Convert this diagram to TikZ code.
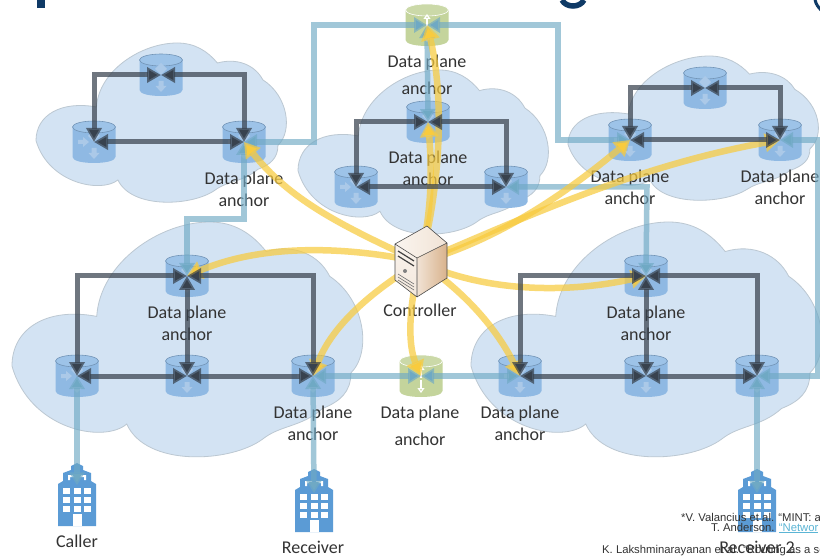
\documentclass[tikz,border=0pt]{standalone}
\usepackage{fontspec}
\setmainfont{Carlito}
\newfontfamily\footfont{Liberation Sans}
\usetikzlibrary{arrows.meta}
\definecolor{cloudfill}{HTML}{D3E3F3}
\definecolor{cloudedge}{HTML}{BCC8D2}
\definecolor{cylbody}{HTML}{8FB9E3}
\definecolor{cyltop}{HTML}{9DC3E8}
\definecolor{cylicon}{HTML}{ABC9E8}
\definecolor{greenbody}{HTML}{C4D49C}
\definecolor{bldgblue}{HTML}{5B9BD5}
\definecolor{darklink}{HTML}{38424E}
\definecolor{bluelink}{HTML}{6FA9C4}
\definecolor{yellowlink}{HTML}{F8CB3E}
\definecolor{labeltext}{HTML}{333333}
\definecolor{navy}{HTML}{0F3A66}
\tikzset{
  dlink/.style={draw=darklink,draw opacity=.72,line width=5pt,
    {Triangle[length=14pt,width=15pt]}-{Triangle[length=14pt,width=15pt]}},
  blink/.style={draw=bluelink,draw opacity=.65,line width=5.5pt,
    {Triangle[length=13pt,width=15pt]}-{Triangle[length=13pt,width=15pt]}},
  ylink/.style={draw=yellowlink,draw opacity=.72,line width=6.5pt,
    -{Triangle[length=15pt,width=18pt]}},
  cylnode/.style={inner sep=0pt,minimum width=43pt,minimum height=42pt},
  lab/.style={align=center,text=labeltext,font=\fontsize{18}{22}\selectfont,inner sep=0pt},
  labwide/.style={align=center,text=labeltext,font=\fontsize{18}{27}\selectfont,inner sep=0pt},
  lone/.style={text=labeltext,font=\fontsize{18}{22}\selectfont,inner sep=0pt,anchor=base},
  foot/.style={anchor=west,font=\footfont\fontsize{11.3}{12}\selectfont,text=black!80,inner sep=0pt},
  anchorpt/.style={inner sep=0pt,minimum size=1pt}
}
\newcommand{\cloudat}[4]{%
  \begin{scope}[shift={(#1,#2)},x=#3pt,y=-#4pt]
  \draw[fill=cloudfill,draw=cloudedge,line width=.8pt]
    (0,.61) .. controls (0,.45) and (.1,.36) .. (.24,.40)
    .. controls (.25,.17) and (.42,0) .. (.56,0)
    .. controls (.63,0) and (.68,.05) .. (.72,.125)
    .. controls (.80,.09) and (.87,.14) .. (.90,.23)
    .. controls (1,.33) and (1.02,.55) .. (.96,.64)
    .. controls (.96,.72) and (.93,.76) .. (.88,.79)
    .. controls (.82,.87) and (.76,.86) .. (.71,.92)
    .. controls (.62,1.02) and (.38,1.04) .. (.325,.856)
    .. controls (.26,.94) and (.05,.88) .. (0,.61) -- cycle;
  \end{scope}}
\newcommand{\cylbody}[5]{%
  \fill[#3] (#1-21.5,#2-15) -- (#1-21.5,#2+15) .. controls (#1-21.5,#2+23) and (#1+21.5,#2+23) .. (#1+21.5,#2+15) -- (#1+21.5,#2-15) -- cycle;
  \draw[#5,fill=#4,line width=.6pt] (#1,#2-15) ellipse [x radius=21.5,y radius=6];
}
\newcommand{\blucyl}[3]{%
  \cylbody{#2}{#3}{cylbody}{cyltop}{cylbody!80!black}
  \node[cylnode] (#1) at (#2,#3) {};
  \fill[cylicon] (#2-2.5,#3+6) rectangle (#2+2.5,#3+11) (#2-5.5,#3+11) -- (#2+5.5,#3+11) -- (#2,#3+17) -- cycle;
  \fill[cylicon] (#2-16,#3-2) rectangle (#2-11,#3+2) (#2-11,#3-5) -- (#2-11,#3+5) -- (#2-5,#3) -- cycle;
  \fill[cylicon] (#2,#3-12) -- (#2+6,#3-6) -- (#2,#3) -- (#2-6,#3-6) -- cycle;
}
\newcommand{\grncyl}[3]{%
  \cylbody{#2}{#3}{greenbody}{greenbody!88!white}{white}
  \node[cylnode] (#1) at (#2,#3) {};
  \draw[white,line width=1.2pt,-{Triangle[length=5pt,width=7pt,open]}] (#2,#3+2) -- (#2,#3-11);
  \draw[white,line width=1.2pt,-{Triangle[length=5pt,width=7pt,open]}] (#2,#3+4) -- (#2,#3+17);
}
\newcommand{\bldg}[4]{%
  \begin{scope}[shift={(#2,#3)}]
  \fill[bldgblue] (0,21) -- (5,18) -- (5,10) -- (13,7) -- (13,3) -- (19,0) -- (25,3) -- (25,7) -- (33,10) -- (33,18) -- (38,21) -- (38,63) -- (0,63) -- cycle;
  \fill[white] (10,12) rectangle (17,14) (10,12) rectangle (12,17) (21,12) rectangle (28,14) (26,12) rectangle (28,17);
  \foreach \cx in {5,15.5,26}{\foreach \cy in {25,34,43}{\fill[white] (\cx,\cy) rectangle ++(7,5.5);}}
  \fill[white] (14.5,51) rectangle (24,63);
  \end{scope}
  \node[anchorpt] (#1) at (#2+19,#4) {};
}
\begin{document}
\begin{tikzpicture}[x=1pt,y=-1pt]
\useasboundingbox (0,0) rectangle (820,556);
\fill[white] (0,0) rectangle (820,556);
\clip (0,0) rectangle (820,556);
\fill[navy] (37,0) rectangle (44.5,8.5);
\draw[navy,line width=5.5pt] (562,0) .. controls (566,8) and (580,8) .. (584,0);
\draw[navy,line width=3pt] (815,0) .. controls (816,4) and (818,7) .. (821,10);
\cloudat{36}{43}{252}{160}
\cloudat{298}{70}{252}{165}
\cloudat{568}{56}{252}{145}
\cloudat{12}{222}{353}{236}
\cloudat{471}{222}{353}{236}
\bldg{caller}{58}{463}{486}
\bldg{receiver}{295}{469}{494}
\bldg{receivertwo}{738}{469}{494}
\blucyl{at}{161}{75}
\blucyl{al}{94}{142}
\blucyl{ar}{244}{142}
\blucyl{bt}{428}{122}
\blucyl{bl}{356}{187}
\blucyl{br}{506}{187}
\blucyl{ct}{705}{88}
\blucyl{cl}{630}{140}
\blucyl{cr}{780}{140}
\blucyl{dt}{187}{276}
\blucyl{dl}{77}{376}
\blucyl{dm}{187}{376}
\blucyl{dr}{313}{376}
\blucyl{et}{646}{276}
\blucyl{el}{520}{376}
\blucyl{em}{646}{376}
\blucyl{er}{757}{376}
\grncyl{gt}{427}{25}
\grncyl{gb}{421}{376}
\node[lab] (l1) at (244,189) {Data plane\\anchor};
\node[labwide] (l2) at (427,75) {Data plane\\anchor};
\node[lab] (l3) at (428,168) {Data plane\\anchor};
\node[lab] (l4) at (630,187) {Data plane\\anchor};
\node[lab] (l5) at (780,187) {Data plane\\anchor};
\node[lab] (l6) at (187,323) {Data plane\\anchor};
\node[lab] (l7) at (313,423) {Data plane\\anchor};
\node[labwide] (l8) at (420,426) {Data plane\\anchor};
\node[lab] (l9) at (520,423) {Data plane\\anchor};
\node[lab] (l10) at (646,323) {Data plane\\anchor};
\node[lone] (l11) at (420,317) {Controller};
\node[lone] (l12) at (77,547) {Caller};
\node[lone] (l13) at (313,553) {Receiver};
\coordinate (g1) at (314,25);
\coordinate (g2) at (314,142);
\coordinate (g3) at (558,25);
\coordinate (g4) at (558,140);
\coordinate (a1) at (244,219);
\coordinate (a2) at (187,219);
\coordinate (b1) at (647,187);
\coordinate (e1) at (818,376);
\coordinate (e2) at (818,140);
\draw[blink] (gt.center) -- (g1) -- (g2) -- (ar.center);
\draw[blink] (gt.center) -- (g3) -- (g4) -- (cl.center);
\draw[blink] (gt.center) -- (bt.center);
\draw[blink] (ar.center) -- (a1) -- (a2) -- (dt.center);
\draw[blink] (br.center) -- (b1) -- (et.center);
\draw[blink] (dr.center) -- (gb.center);
\draw[blink] (gb.center) -- (el.center);
\draw[blink] (er.center) -- (e1) -- (e2) -- (cr.center);
\draw[blink] (dl.center) -- (caller);
\draw[blink] (dr.center) -- (receiver);
\draw[blink] (er.center) -- (receivertwo);
\node[anchorpt] (ctrl) at (420,262) {};
\draw[ylink] (ctrl.center) .. controls (340,225) and (290,200) .. (ar.center);
\draw[ylink] (ctrl.center) .. controls (340,245) and (260,245) .. (dt.center);
\draw[ylink] (ctrl.center) .. controls (365,295) and (330,330) .. (dr.center);
\draw[ylink] (ctrl.center) .. controls (408,310) and (408,345) .. (gb.center);
\draw[ylink] (ctrl.center) .. controls (470,295) and (500,335) .. (el.center);
\draw[ylink] (ctrl.center) .. controls (480,290) and (560,295) .. (et.center);
\draw[ylink] (ctrl.center) .. controls (500,240) and (570,190) .. (cl.center);
\draw[ylink] (ctrl.center) .. controls (530,215) and (640,165) .. (cr.center);
\draw[ylink] (ctrl.center) .. controls (440,190) and (445,100) .. (gt.center);
\draw[ylink] (ctrl.center) .. controls (432,210) and (432,170) .. (bt.center);
\draw[dlink] (at.center) -| (al.center);
\draw[dlink] (at.center) -| (ar.center);
\draw[dlink] (al.center) -- (ar.center);
\draw[dlink] (bt.center) -| (bl.center);
\draw[dlink] (bt.center) -| (br.center);
\draw[dlink] (bl.center) -- (br.center);
\draw[dlink] (ct.center) -| (cl.center);
\draw[dlink] (ct.center) -| (cr.center);
\draw[dlink] (cl.center) -- (cr.center);
\draw[dlink] (dt.center) -| (dl.center);
\draw[dlink] (dt.center) -| (dr.center);
\draw[dlink] (dt.center) -- (dm.center);
\draw[dlink] (dl.center) -- (dm.center);
\draw[dlink] (dm.center) -- (dr.center);
\draw[dlink] (et.center) -| (el.center);
\draw[dlink] (et.center) -| (er.center);
\draw[dlink] (et.center) -- (em.center);
\draw[dlink] (el.center) -- (em.center);
\draw[dlink] (em.center) -- (er.center);
\shade[left color=white!92!brown,right color=brown!22!white]
  (427,226) -- (395,244) -- (417,258) -- (447,243) -- cycle;
\shade[top color=white!90!brown,bottom color=brown!18!white]
  (395,244) -- (417,258) -- (417,297) -- (395,280) -- cycle;
\shade[left color=brown!22!white,right color=brown!60!white]
  (417,258) -- (447,243) -- (447,278) -- (417,297) -- cycle;
\draw[black!70,line width=.6pt,line join=round]
  (427,226) -- (395,244) -- (395,280) -- (417,297) -- (447,278) -- (447,243) -- cycle
  (395,244) -- (417,258) -- (447,243) (417,258) -- (417,297);
\draw[black!75,line width=1.2pt] (398,251) -- (414,261) (398,256) -- (414,266);
\fill[black!50] (405,271) circle (2pt);
\draw[black!55,line width=.6pt] (398,274) -- (414,284) (398,277) -- (414,287) (398,280) -- (414,290);
\node[foot] (f1) at (681,517) {*V. Valancius et al. “MINT: a};
\node[foot] (f2) at (711,528) {T. Anderson. \textcolor[HTML]{5BB5D5}{\underline{“Networ}}};
\node[foot] (f3) at (602,551) {K. Lakshminarayanan et al. “Routing as a se};
\node[lone] (l14) at (757,553) {Receiver 2};
\end{tikzpicture}
\end{document}
